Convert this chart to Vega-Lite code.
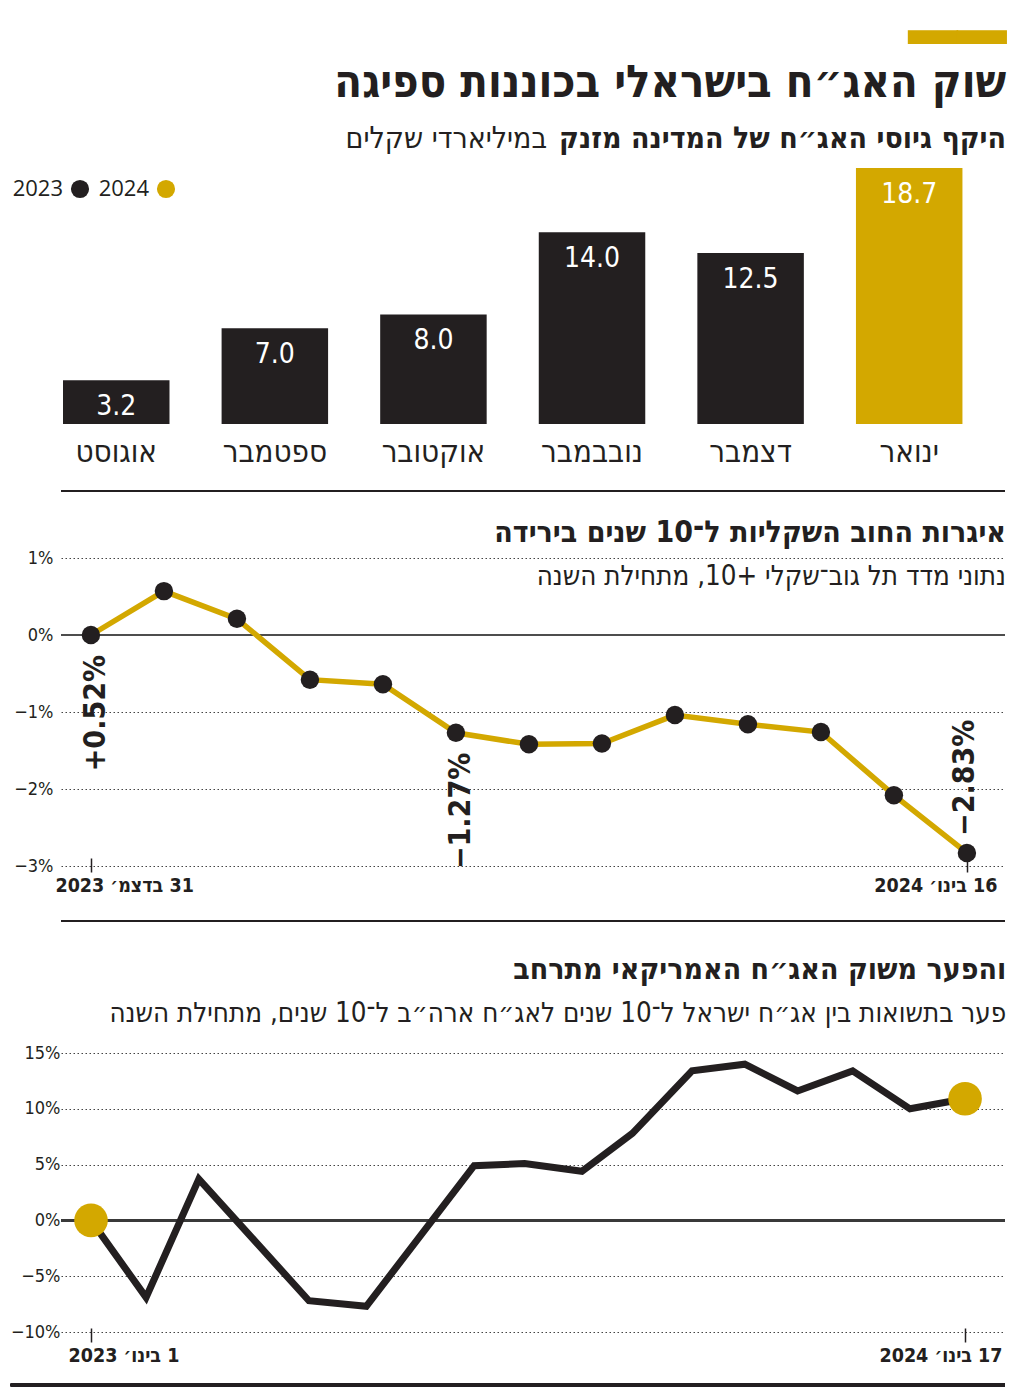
{
  "$schema": "https://vega.github.io/schema/vega-lite/v6.json",
  "background": "white",
  "padding": {"left": 9, "right": 19, "top": 0, "bottom": 5},
  "config": {
    "font": "DejaVu Sans Condensed",
    "view": {"stroke": null}
  },
  "title": {
    "text": "━━",
    "font": "DejaVu Sans Mono",
    "fontSize": 81,
    "fontWeight": "normal",
    "color": "#D3A800",
    "anchor": "end",
    "subtitle": "שוק האג״ח בישראלי בכוננות ספיגה",
    "subtitleFont": "DejaVu Sans Condensed",
    "subtitleFontSize": 45,
    "subtitleFontWeight": "bold",
    "subtitleColor": "#231F20",
    "subtitlePadding": -21,
    "offset": 17
  },
  "columns": 1,
  "align": "none",
  "spacing": 25,
  "concat": [
    {
      "width": 944,
      "height": 256,
      "title": {
        "text": "היקף גיוסי האג״ח של המדינה מזנק",
        "subtitle": "\u202B\u2003\u2003\u2003\u2003\u2003\u2003\u2003\u2003\u2003\u2003\u2003\u2003\u2003\u2003\u2003\u2003\u2003במיליארדי שקלים\u202C",
        "anchor": "end",
        "font": "DejaVu Sans Condensed",
        "fontSize": 30,
        "fontWeight": "bold",
        "color": "#231F20",
        "subtitleFont": "DejaVu Sans Condensed",
        "subtitleFontSize": 30,
        "subtitleFontWeight": "normal",
        "subtitleColor": "#231F20",
        "subtitlePadding": -30,
        "offset": 14
      },
      "data": {
        "values": [
          {"month": "אוגוסט", "year": "2023", "value": 3.2},
          {"month": "ספטמבר", "year": "2023", "value": 7.0},
          {"month": "אוקטובר", "year": "2023", "value": 8.0},
          {"month": "נובבמבר", "year": "2023", "value": 14.0},
          {"month": "דצמבר", "year": "2023", "value": 12.5},
          {"month": "ינואר", "year": "2024", "value": 18.7}
        ]
      },
      "layer": [
        {
          "mark": {"type": "bar"},
          "encoding": {
            "x": {
              "field": "month", "type": "nominal", "sort": null,
              "scale": {"paddingInner": 0.3285, "paddingOuter": 0.1405, "align": 0.045},
              "axis": {"title": null, "domain": false, "ticks": false, "labelAngle": 0, "labelFontSize": 31, "labelPadding": 13, "labelColor": "#231F20", "labelFont": "DejaVu Sans Condensed"}
            },
            "y": {"field": "value", "type": "quantitative", "scale": {"domain": [0, 18.7], "nice": false}, "axis": null},
            "color": {
              "field": "year", "type": "nominal",
              "scale": {"domain": ["2023", "2024"], "range": ["#231F20", "#D3A800"]},
              "legend": {
                "title": null, "orient": "none", "legendX": 8, "legendY": 10,
                "direction": "horizontal", "symbolType": "circle", "symbolSize": 330,
                "symbolStrokeWidth": 0, "symbolOpacity": 1,
                "labelFontSize": 22, "labelFont": "Open Sans", "labelColor": "#231F20",
                "labelAlign": "right", "labelOffset": -28, "columnPadding": 8
              }
            }
          }
        },
        {
          "mark": {"type": "text", "color": "white", "baseline": "middle", "dy": 27, "fontSize": 28, "font": "DejaVu Sans Condensed"},
          "encoding": {
            "x": {"field": "month", "type": "nominal", "sort": null},
            "y": {"field": "value", "type": "quantitative"},
            "text": {"field": "value", "type": "quantitative", "format": ".1f"}
          }
        },
        {
          "mark": {"type": "rule", "color": "#231F20", "strokeWidth": 2},
          "encoding": {"y": {"datum": -4.89, "type": "quantitative"}}
        }
      ]
    },
    {
      "columns": 1,
      "align": "none",
      "spacing": 32,
      "concat": [
        {
          "width": 944,
          "height": 308,
          "title": {
            "text": "איגרות החוב השקליות ל־10 שנים בירידה",
            "subtitle": "נתוני מדד תל גוב־שקלי +10, מתחילת השנה",
            "anchor": "end",
            "font": "DejaVu Sans Condensed",
            "fontSize": 30,
            "fontWeight": "bold",
            "color": "#231F20",
            "subtitleFont": "DejaVu Sans Condensed",
            "subtitleFontSize": 27.5,
            "subtitleColor": "#231F20",
            "subtitlePadding": 15,
            "offset": -41
          },
          "data": {
            "values": [
              {"date": "2023-12-31", "change": 0, "label": "+0.52%"},
              {"date": "2024-01-01", "change": 0.57},
              {"date": "2024-01-02", "change": 0.21},
              {"date": "2024-01-03", "change": -0.58},
              {"date": "2024-01-04", "change": -0.64},
              {"date": "2024-01-07", "change": -1.27, "label": "−1.27%"},
              {"date": "2024-01-08", "change": -1.42},
              {"date": "2024-01-09", "change": -1.41},
              {"date": "2024-01-10", "change": -1.04},
              {"date": "2024-01-11", "change": -1.16},
              {"date": "2024-01-14", "change": -1.26},
              {"date": "2024-01-15", "change": -2.08},
              {"date": "2024-01-16", "change": -2.83, "label": "−2.83%"}
            ]
          },
          "layer": [
            {
              "mark": {"type": "rule", "color": "#4D4D4D", "strokeWidth": 2},
              "encoding": {"y": {"datum": 0, "type": "quantitative"}}
            },
            {
              "mark": {"type": "line", "color": "#D3A800", "strokeWidth": 5.5},
              "encoding": {
                "x": {
                  "field": "date", "type": "ordinal",
                  "scale": {"type": "point", "padding": 0.466, "align": 0.44},
                  "axis": {
                    "title": null, "domain": false, "grid": false,
                    "values": ["2023-12-31", "2024-01-16"],
                    "labelExpr": "datum.value == '2023-12-31' ? '\u202B31 בדצמ׳ 2023\u202C' : '\u202B16 בינו׳ 2024\u202C'",
                    "labelAngle": 0, "labelFlush": 40, "labelFlushOffset": 33, "labelOffset": -3,
                    "tickSize": 14, "tickColor": "#231F20", "tickWidth": 1.5, "offset": -8,
                    "labelFontSize": 19.5, "labelFontWeight": "bold", "labelPadding": 4, "labelColor": "#231F20"
                  }
                },
                "y": {
                  "field": "change", "type": "quantitative",
                  "scale": {"domain": [-3, 1], "nice": false},
                  "axis": {
                    "title": null, "values": [-3, -2, -1, 0, 1],
                    "labelExpr": "(datum.value < 0 ? '−' : '') + abs(datum.value) + '%'",
                    "grid": true, "gridDash": [1.5, 2.5], "gridColor": "#444", "gridWidth": 1,
                    "domain": false, "ticks": false, "labelFontSize": 18, "labelPadding": 8,
                    "minExtent": 49, "labelColor": "#231F20"
                  }
                }
              }
            },
            {
              "mark": {"type": "circle", "color": "#231F20", "opacity": 1, "size": 340},
              "encoding": {
                "x": {"field": "date", "type": "ordinal"},
                "y": {"field": "change", "type": "quantitative"}
              }
            },
            {
              "transform": [{"filter": "isValid(datum.label) && datum.change > -2.5"}],
              "mark": {"type": "text", "angle": 270, "align": "right", "baseline": "middle", "dx": -20, "dy": 5, "fontSize": 30, "fontWeight": "bold", "color": "#231F20"},
              "encoding": {
                "x": {"field": "date", "type": "ordinal"},
                "y": {"field": "change", "type": "quantitative"},
                "text": {"field": "label"}
              }
            },
            {
              "transform": [{"filter": "isValid(datum.label) && datum.change <= -2.5"}],
              "mark": {"type": "text", "angle": 270, "align": "left", "baseline": "middle", "dx": 17, "dy": -2, "fontSize": 30, "fontWeight": "bold", "color": "#231F20"},
              "encoding": {
                "x": {"field": "date", "type": "ordinal"},
                "y": {"field": "change", "type": "quantitative"},
                "text": {"field": "label"}
              }
            },
            {
              "mark": {"type": "rule", "color": "#231F20", "strokeWidth": 2},
              "encoding": {"y": {"datum": -3.714, "type": "quantitative"}}
            }
          ]
        },
        {
          "width": 944,
          "height": 279,
          "title": {
            "text": "והפער משוק האג״ח האמריקאי מתרחב",
            "subtitle": "פער בתשואות בין אג״ח ישראל ל־10 שנים לאג״ח ארה״ב ל־10 שנים, מתחילת השנה",
            "anchor": "end",
            "font": "DejaVu Sans Condensed",
            "fontSize": 30,
            "fontWeight": "bold",
            "color": "#231F20",
            "subtitleFont": "DejaVu Sans Condensed",
            "subtitleFontSize": 27.5,
            "subtitleColor": "#231F20",
            "subtitlePadding": 15,
            "offset": 17
          },
          "data": {
            "values": [
              {"date": "2023-01-01", "spread": 0},
              {"date": "2023-01-25", "spread": -6.9},
              {"date": "2023-02-17", "spread": 3.7},
              {"date": "2023-04-06", "spread": -7.2},
              {"date": "2023-05-01", "spread": -7.7},
              {"date": "2023-06-17", "spread": 4.9},
              {"date": "2023-07-09", "spread": 5.1},
              {"date": "2023-08-03", "spread": 4.4},
              {"date": "2023-08-25", "spread": 7.8},
              {"date": "2023-09-20", "spread": 13.4},
              {"date": "2023-10-13", "spread": 14.0},
              {"date": "2023-11-05", "spread": 11.6},
              {"date": "2023-11-29", "spread": 13.4},
              {"date": "2023-12-24", "spread": 10.0},
              {"date": "2024-01-17", "spread": 10.9}
            ]
          },
          "layer": [
            {
              "mark": {"type": "rule", "color": "#3A3A3A", "strokeWidth": 1.5},
              "encoding": {"y": {"datum": 0, "type": "quantitative"}}
            },
            {
              "mark": {"type": "line", "color": "#231F20", "strokeWidth": 7},
              "encoding": {
                "x": {
                  "field": "date", "type": "temporal",
                  "scale": {"domain": [{"year": 2022, "month": 12, "date": 18, "hours": 22, "utc": true}, {"year": 2024, "month": 2, "date": 3, "hours": 10, "utc": true}]},
                  "axis": {
                    "title": null, "domain": false, "grid": false,
                    "values": [{"year": 2023, "month": 1, "date": 1, "utc": true}, {"year": 2024, "month": 1, "date": 17, "utc": true}],
                    "labelExpr": "datum.value < datetime(2023, 6, 1) ? '\u202B1 בינו׳ 2023\u202C' : '\u202B17 בינו׳ 2024\u202C'",
                    "labelAngle": 0, "labelFlush": 40, "labelFlushOffset": 30, "labelOffset": 7,
                    "tickSize": 14, "tickColor": "#231F20", "tickWidth": 1.5, "offset": -4,
                    "labelFontSize": 19.5, "labelFontWeight": "bold", "labelPadding": 4, "labelColor": "#231F20"
                  }
                },
                "y": {
                  "field": "spread", "type": "quantitative",
                  "scale": {"domain": [-10, 15], "nice": false},
                  "axis": {
                    "title": null, "values": [-10, -5, 0, 5, 10, 15],
                    "labelExpr": "(datum.value < 0 ? '−' : '') + abs(datum.value) + '%'",
                    "grid": true, "gridDash": [1.5, 2.5], "gridColor": "#444", "gridWidth": 1,
                    "domain": false, "ticks": false, "labelFontSize": 18, "labelPadding": 1,
                    "minExtent": 49, "labelColor": "#231F20"
                  }
                }
              }
            },
            {
              "data": {"values": [{"date": "2023-01-01", "spread": 0}, {"date": "2024-01-17", "spread": 10.9}]},
              "mark": {"type": "circle", "color": "#D3A800", "opacity": 1, "size": 1130},
              "encoding": {
                "x": {"field": "date", "type": "temporal"},
                "y": {"field": "spread", "type": "quantitative"}
              }
            },
            {
              "mark": {"type": "rule", "color": "#231F20", "strokeWidth": 2.5},
              "encoding": {
                "y": {"datum": -14.75, "type": "quantitative"},
                "x": {"datum": {"year": 2022, "month": 11, "date": 27, "utc": true}, "type": "temporal"},
                "x2": {"datum": {"year": 2024, "month": 2, "date": 3, "hours": 10, "utc": true}}
              }
            }
          ]
        }
      ]
    }
  ]
}
